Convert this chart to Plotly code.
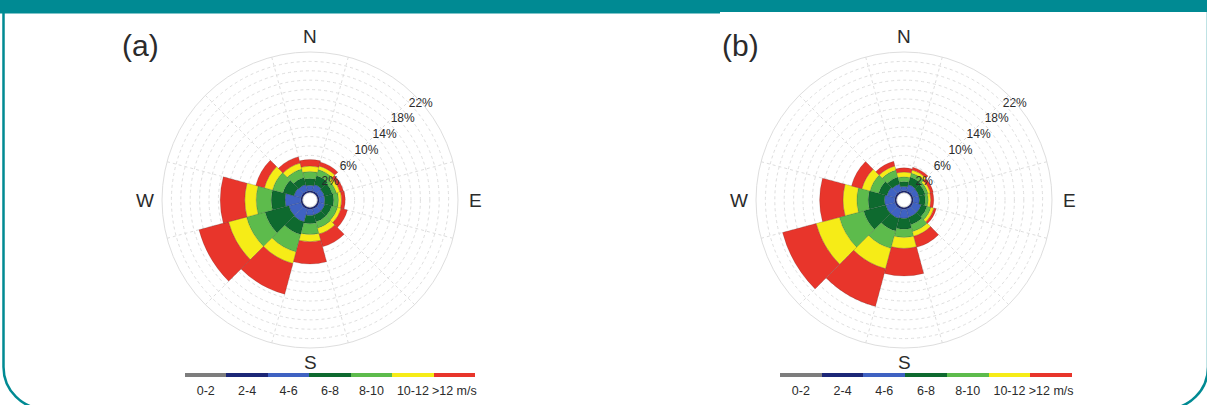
import plotly.graph_objects as go

FIG_W, FIG_H = 1207, 405

# Direction bins (degrees clockwise from north), 30-degree sectors
DIRECTIONS = [0, 30, 60, 90, 120, 150, 180, 210, 240, 270, 300, 330]
SPEED_CLASSES = ["0-2", "2-4", "4-6", "6-8", "8-10", "10-12", ">12 m/s"]
CLASS_COLORS = ["#7d7d7d", "#1c2777", "#3f62c2", "#0e6a2f", "#5dbb4c", "#f6ec17", "#e8352b"]
RING_LABELS = [2, 6, 10, 14, 18, 22]

# Frequency (%) per speed class and direction, panel (a)
A_0_2 = [0.1, 0.1, 0.1, 0.1, 0.1, 0.1, 0.1, 0.1, 0.1, 0.1, 0.1, 0.1]
A_2_4 = [0.3, 0.3, 0.3, 0.3, 0.3, 0.3, 0.3, 0.3, 0.3, 0.3, 0.3, 0.3]
A_4_6 = [0.9, 1.1, 0.9, 0.9, 1.0, 1.0, 1.0, 2.2, 2.1, 2.6, 1.2, 1.1]
A_6_8 = [1.1, 1.5, 1.4, 1.5, 1.2, 1.2, 1.4, 2.2, 4.1, 2.3, 1.9, 1.2]
A_8_10 = [1.2, 1.1, 0.7, 0.8, 1.0, 1.1, 1.8, 3.0, 3.2, 2.5, 1.8, 1.5]
A_10_12 = [0.9, 0.6, 0.6, 0.5, 0.6, 1.0, 1.2, 2.0, 3.1, 1.9, 1.4, 1.0]
A_12_UP = [1.1, 0.7, 0.6, 0.6, 1.1, 2.2, 3.7, 5.3, 5.1, 4.1, 1.5, 1.1]

# Frequency (%) per speed class and direction, panel (b)
B_0_2 = [0.1, 0.1, 0.1, 0.1, 0.1, 0.1, 0.1, 0.1, 0.1, 0.1, 0.1, 0.1]
B_2_4 = [0.3, 0.3, 0.3, 0.3, 0.3, 0.3, 0.3, 0.3, 0.3, 0.3, 0.3, 0.3]
B_4_6 = [0.7, 1.1, 1.0, 1.0, 1.4, 1.4, 1.5, 1.6, 1.6, 1.7, 1.4, 1.2]
B_6_8 = [0.8, 1.3, 1.1, 1.0, 1.0, 1.3, 1.8, 2.2, 3.8, 2.7, 1.4, 1.2]
B_8_10 = [0.8, 0.7, 0.5, 0.5, 0.7, 1.2, 1.4, 3.0, 4.2, 1.9, 1.5, 1.2]
B_10_12 = [0.8, 0.5, 0.4, 0.4, 0.5, 0.8, 1.8, 3.5, 4.0, 2.3, 1.4, 0.7]
B_12_UP = [0.7, 0.5, 0.5, 0.5, 0.4, 1.9, 4.6, 6.5, 5.8, 3.9, 1.8, 0.8]

PANEL_A = [A_0_2, A_2_4, A_4_6, A_6_8, A_8_10, A_10_12, A_12_UP]
PANEL_B = [B_0_2, B_2_4, B_4_6, B_6_8, B_8_10, B_10_12, B_12_UP]

R_MAX = 23.5
N_RINGS = 15

TEAL = "#008a93"
TEXT = "#2b2b2b"
GRID = "#dedede"


def px(x):
    return x / FIG_W


def py(y):
    return 1 - y / FIG_H


fig = go.Figure()

panels = [
    ("polar", PANEL_A, 310, 200, "(a)", 140),
    ("polar2", PANEL_B, 904, 200, "(b)", 740),
]
rose_r = 148

annotations = []
for name, table, cx, cy, tag, tag_x in panels:
    for label, color, values in zip(SPEED_CLASSES, CLASS_COLORS, table):
        fig.add_trace(go.Barpolar(
            r=values, theta=DIRECTIONS, width=[30] * len(DIRECTIONS),
            marker=dict(color=color, line=dict(width=0.4, color="rgba(40,40,40,0.4)")),
            name=label, showlegend=False, subplot=name,
        ))
    # ring labels along the north-east diagonal
    fig.add_trace(go.Scatterpolar(
        r=[v + 1.3 for v in RING_LABELS], theta=[49] * len(RING_LABELS),
        mode="text", text=[f"{v}%" for v in RING_LABELS],
        textfont=dict(size=12, color=TEXT, family="Liberation Sans, Arial"),
        showlegend=False, subplot=name, hoverinfo="skip",
    ))
    fig.update_layout(**{name: dict(
        domain=dict(x=[px(cx - rose_r), px(cx + rose_r)],
                    y=[py(cy + rose_r), py(cy - rose_r)]),
        hole=7 / rose_r,
        bgcolor="white",
        bargap=0,
        barmode="stack",
        radialaxis=dict(
            range=[0, R_MAX], showticklabels=False, ticks="", showline=False,
            tickmode="array",
            tickvals=[R_MAX * k / N_RINGS for k in range(1, N_RINGS)],
            gridcolor=GRID, griddash="dot", gridwidth=1,
        ),
        angularaxis=dict(
            rotation=90, direction="clockwise", showticklabels=False, ticks="",
            tickmode="array", tickvals=list(range(15, 360, 30)),
            gridcolor=GRID, griddash="dot", gridwidth=1,
            showline=True, linecolor=GRID, linewidth=1,
        ),
    )})
    for lab, dx, dy in [("N", 0, -163), ("E", 165, 0), ("S", 0, 162), ("W", -165, 0)]:
        annotations.append(dict(
            text=lab, x=px(cx + dx), y=py(cy + dy), xref="paper", yref="paper",
            showarrow=False, xanchor="center", yanchor="middle",
            font=dict(size=19, color=TEXT, family="Liberation Sans, Arial"),
        ))
    annotations.append(dict(
        text=tag, x=px(tag_x), y=py(45), xref="paper", yref="paper",
        showarrow=False, xanchor="center", yanchor="middle",
        font=dict(size=30, color=TEXT, family="Liberation Sans, Arial"),
    ))

# speed-class colour keys below each rose
keys = [("x", "y"), ("x2", "y2")]
for xa, ya in keys:
    fig.add_trace(go.Bar(
        x=SPEED_CLASSES, y=[1] * len(SPEED_CLASSES), width=1,
        marker=dict(color=CLASS_COLORS, line=dict(width=0)),
        xaxis=xa, yaxis=ya, showlegend=False, hoverinfo="skip",
    ))

axis_common = dict(type="category", showgrid=False, zeroline=False, showline=False,
                   ticks="", fixedrange=True, ticklabelstandoff=4, tickangle=0,
                   automargin=False,
                   tickfont=dict(size=12.5, color=TEXT, family="Liberation Sans, Arial"))
yaxis_common = dict(range=[0, 1], visible=False, fixedrange=True)
fig.update_layout(
    xaxis=dict(domain=[px(185), px(475)], anchor="y", **axis_common),
    yaxis=dict(domain=[py(377), py(373)], anchor="x", **yaxis_common),
    xaxis2=dict(domain=[px(780), px(1072)], anchor="y2", **axis_common),
    yaxis2=dict(domain=[py(377), py(373)], anchor="x2", **yaxis_common),
    bargap=0,
)

# frame: teal header band and rounded side border
k = 0.5523 * 42
frame_path = (
    f"M {px(3.5)},{py(12)} L {px(3.5)},{py(367)} "
    f"C {px(3.5)},{py(367 + k)} {px(45.5 - k)},{py(409)} {px(45.5)},{py(409)} "
    f"L {px(1166)},{py(409)} "
    f"C {px(1166 + k)},{py(409)} {px(1208)},{py(367 + k)} {px(1208)},{py(367)} "
    f"L {px(1208)},{py(12)}"
)
shapes = [
    dict(type="rect", xref="paper", yref="paper", x0=0, x1=px(720), y0=py(13.5), y1=1,
         fillcolor=TEAL, line=dict(width=0), layer="above"),
    dict(type="rect", xref="paper", yref="paper", x0=px(720), x1=1, y0=py(12), y1=1,
         fillcolor=TEAL, line=dict(width=0), layer="above"),
    dict(type="path", xref="paper", yref="paper", path=frame_path,
         line=dict(color=TEAL, width=2.5), layer="above"),
]

fig.update_layout(
    width=FIG_W, height=FIG_H,
    margin=dict(l=0, r=0, t=0, b=0),
    paper_bgcolor="white", plot_bgcolor="white",
    annotations=annotations, shapes=shapes,
    font=dict(family="Liberation Sans, Arial", color=TEXT),
)

fig.write_html("out.html")
